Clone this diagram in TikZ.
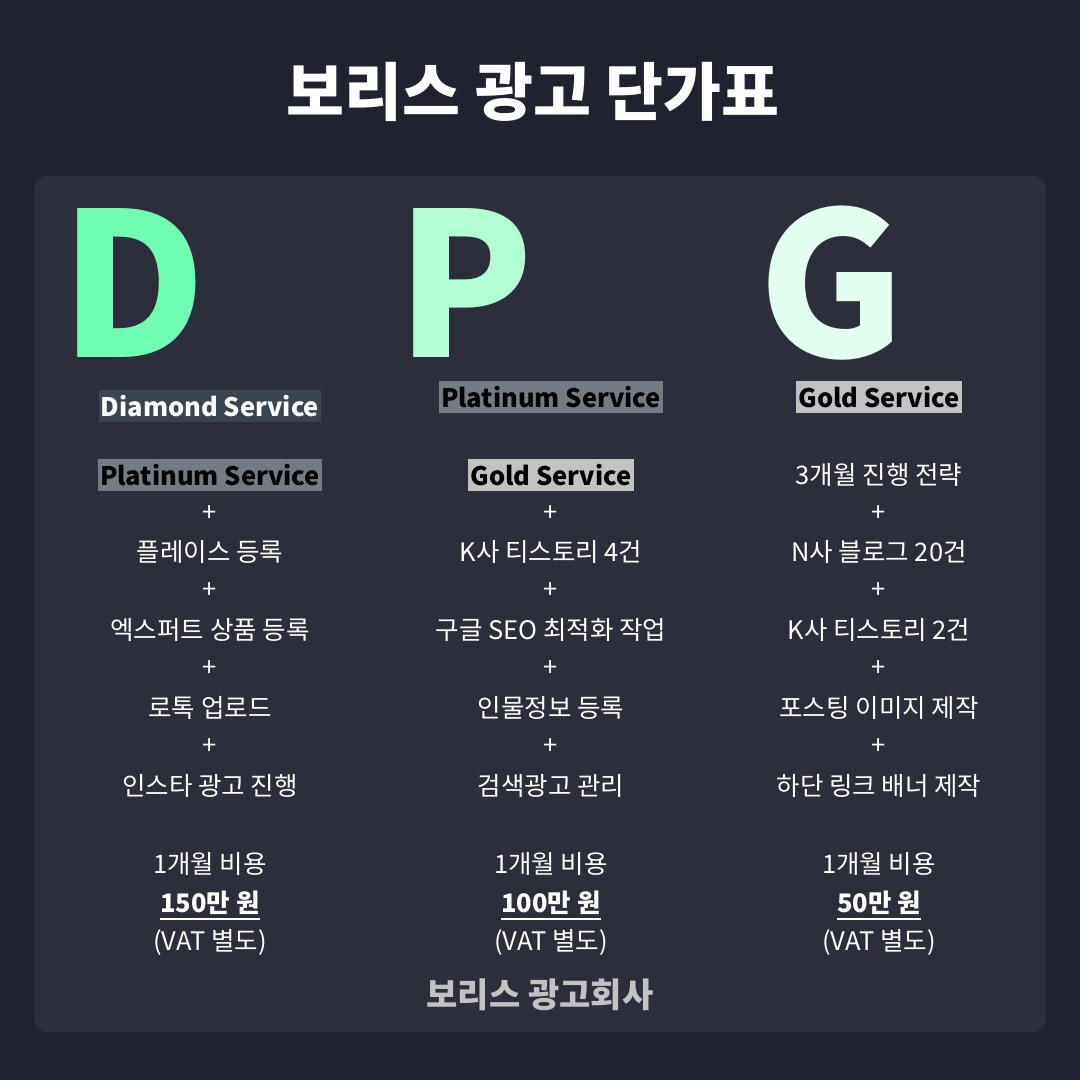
\documentclass[tikz,border=0pt]{standalone}
\usepackage{fontspec}
\setmainfont{Noto Sans CJK KR}
\definecolor{bgc}{HTML}{21222F}
\definecolor{panel}{HTML}{2D2E3B}
\definecolor{dcol}{HTML}{70FFB2}
\definecolor{pcol}{HTML}{B2FFD6}
\definecolor{gcol}{HTML}{E2FFF0}
\definecolor{dbox}{HTML}{3B4552}
\definecolor{pbox}{HTML}{737B85}
\definecolor{gbox}{HTML}{C2C2C2}
\begin{document}
\begin{tikzpicture}[x=1pt,y=-1pt,
  txt/.style={text=white,font=\fontsize{25.5}{27}\selectfont,inner sep=0pt,anchor=center},
  bold/.style={txt,font=\fontsize{25.5}{27}\selectfont\bfseries},
  tag/.style={font=\fontsize{25.5}{27}\selectfont\bfseries,inner xsep=2pt,inner ysep=5pt,anchor=center},
  letter/.style={font=\fontsize{200}{200}\selectfont\bfseries,inner sep=0pt,anchor=base west}]
\fill[bgc] (0,0) rectangle (1080,1080);
\useasboundingbox (0,0) rectangle (1080,1080);
\fill[panel,rounded corners=14pt] (34,176) rectangle (1046,1032);
\node[text=white,font=\fontsize{63}{66}\selectfont\bfseries,inner sep=0pt] (title) at (533,92) {보리스 광고 단가표};
\node[letter,text=dcol] (D) at (60,357) {D};
\node[letter,text=pcol] (P) at (396,357) {P};
\node[letter,text=gcol] (G) at (758,357) {G};
\node[tag,fill=dbox,text=white] (dsvc) at (210,406) {Diamond Service};
\node[tag,fill=pbox,text=black] (psvc) at (551,397) {Platinum Service};
\node[tag,fill=gbox,text=black] (gsvc) at (879,397) {Gold Service};
% column 1
\node[tag,fill=pbox,text=black] (c1a) at (210,475) {Platinum Service};
\node[txt] (c1b) at (210,514) {+};
\node[txt] (c1c) at (210,552) {플레이스 등록};
\node[txt] (c1d) at (210,591) {+};
\node[txt] (c1e) at (210,630) {엑스퍼트 상품 등록};
\node[txt] (c1f) at (210,669) {+};
\node[txt] (c1g) at (210,708) {로톡 업로드};
\node[txt] (c1h) at (210,747) {+};
\node[txt] (c1i) at (210,786) {인스타 광고 진행};
% column 2
\node[tag,fill=gbox,text=black] (c2a) at (551,475) {Gold Service};
\node[txt] (c2b) at (551,514) {+};
\node[txt] (c2c) at (551,552) {K사 티스토리 4건};
\node[txt] (c2d) at (551,591) {+};
\node[txt] (c2e) at (551,630) {구글 SEO 최적화 작업};
\node[txt] (c2f) at (551,669) {+};
\node[txt] (c2g) at (551,708) {인물정보 등록};
\node[txt] (c2h) at (551,747) {+};
\node[txt] (c2i) at (551,786) {검색광고 관리};
% column 3
\node[txt] (c3a) at (879,475) {3개월 진행 전략};
\node[txt] (c3b) at (879,514) {+};
\node[txt] (c3c) at (879,552) {N사 블로그 20건};
\node[txt] (c3d) at (879,591) {+};
\node[txt] (c3e) at (879,630) {K사 티스토리 2건};
\node[txt] (c3f) at (879,669) {+};
\node[txt] (c3g) at (879,708) {포스팅 이미지 제작};
\node[txt] (c3h) at (879,747) {+};
\node[txt] (c3i) at (879,786) {하단 링크 배너 제작};
% prices
\foreach \x/\p/\n in {210/150/a,551/100/b,879/50/c}{
  \node[txt] (cost\n) at (\x,864) {1개월 비용};
  \node[bold] (price\n) at (\x,903) {{\p}만 원};
  \draw[white,line width=1.5pt] ([yshift=-4pt]price\n.south west) -- ([yshift=-4pt]price\n.south east);
  \node[txt] (vat\n) at (\x,942) {(VAT 별도)};
}
\node[text=gbox,font=\fontsize{34}{36}\selectfont\bfseries,inner sep=0pt] (foot) at (540,995) {보리스 광고회사};
\end{tikzpicture}
\end{document}
